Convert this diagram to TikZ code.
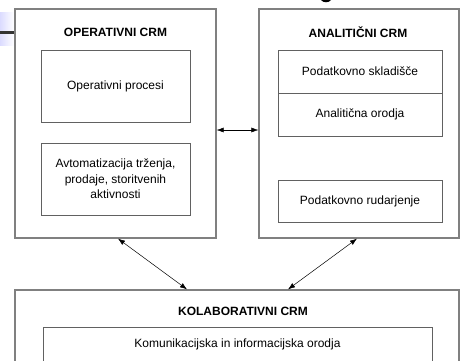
\documentclass[tikz,border=0pt]{standalone}
\usepackage{fontspec}
\setmainfont{Liberation Sans}
\usetikzlibrary{arrows.meta}
\begin{document}
\begin{tikzpicture}[x=1pt,y=-1pt,
  outerbox/.style={draw=black!50,line width=1.3pt,minimum width=#1,inner sep=0pt},
  innerbox/.style={draw=black!62,line width=0.8pt,inner sep=0pt,align=center,font=\fontsize{12}{15.5}\selectfont},
  ttl/.style={font=\fontsize{12}{14}\selectfont\bfseries,inner sep=0pt},
  conn/.style={line width=0.5pt,{Latex[length=7pt,width=5pt]}-{Latex[length=7pt,width=5pt]}}]
\useasboundingbox (0,0) rectangle (460,360);
\clip (0,0) rectangle (460,360);
% slide fragments
\shade[left color=blue!14,right color=white,draw=none] (0,12) rectangle (14,45);
\fill[black!80] (0,31) rectangle (14,33.5);
\fill[black] (321,0) .. controls (323,3) and (329,3) .. (331,0) -- cycle;
% outer boxes
\node[outerbox=201pt,minimum height=229pt] (op) at (115.5,123.5) {};
\node[outerbox=200pt,minimum height=229pt] (an) at (359,123.5) {};
\node[outerbox=444pt,minimum height=90pt] (kol) at (237,335) {};
% titles
\node[ttl] (opt) at (115.5,32) {OPERATIVNI CRM};
\node[ttl] (ant) at (358,32) {ANALITIČNI CRM};
\node[ttl] (kolt) at (243,311) {KOLABORATIVNI CRM};
% left inner
\node[innerbox,minimum width=149pt,minimum height=72pt] (opp) at (115.5,86) {Operativni procesi};
\node[innerbox,minimum width=149pt,minimum height=72pt] (avt) at (115.5,179) {Avtomatizacija trženja,\\prodaje, storitvenih\\aktivnosti};
% right inner
\node[innerbox,minimum width=164pt,minimum height=43pt] (skl) at (360,71.5) {Podatkovno skladišče};
\node[innerbox,minimum width=164pt,minimum height=43pt] (oro) at (360,114.5) {Analitična orodja};
\node[innerbox,minimum width=164pt,minimum height=42pt] (rud) at (360,201) {Podatkovno rudarjenje};
% bottom inner
\node[innerbox,minimum width=389pt,minimum height=60pt,anchor=north] (kom) at (237.5,327) {};
\node[font=\fontsize{12}{14}\selectfont,inner sep=0pt] (komt) at (237.5,344) {Komunikacijska in informacijska orodja};
% connectors
\draw[conn] ([yshift=-6.5pt]op.east) -- ([yshift=-6.5pt]an.west);
\draw[conn] ([xshift=2.5pt]op.south) -- ([xshift=-50pt]kol.north);
\draw[conn] ([xshift=-2pt]an.south) -- ([xshift=51pt]kol.north);
\end{tikzpicture}
\end{document}
